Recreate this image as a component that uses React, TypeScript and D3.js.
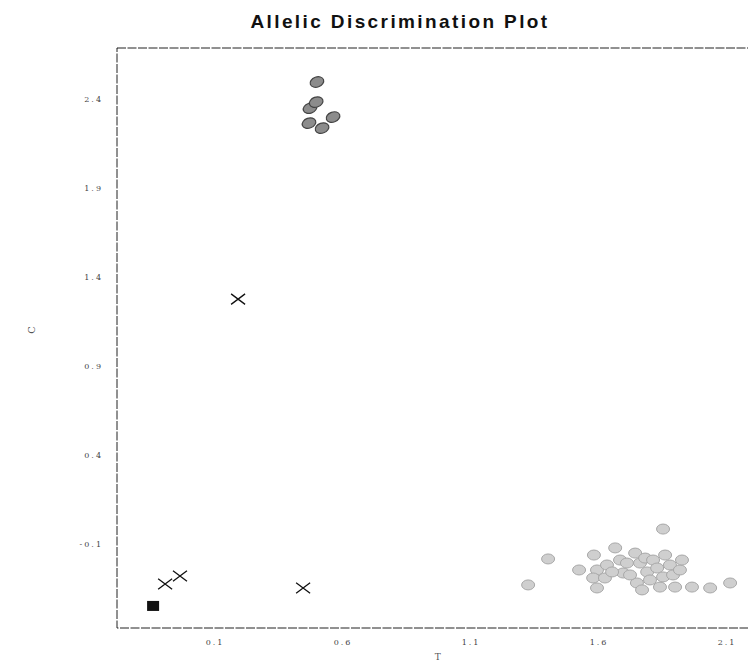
import { scaleLinear } from "d3";

// tick values
const xTicks = [0.1, 0.6, 1.1, 1.6, 2.1];
const yTicks = [-0.1, 0.4, 0.9, 1.4, 1.9, 2.4];

// allele C homozygotes (dark grey cluster, top left)
const alleleCX = [0.498, 0.471, 0.495, 0.561, 0.467, 0.518];
const alleleCY = [2.496, 2.349, 2.383, 2.299, 2.265, 2.237];

// allele T homozygotes (light grey cluster, bottom right)
const alleleTX = [
  1.323, 1.401, 1.522, 1.58, 1.592, 1.577, 1.592, 1.631, 1.663, 1.682, 1.694,
  1.709, 1.741, 1.748, 1.76, 1.78, 1.788, 1.811, 1.827, 1.838, 1.85, 1.877,
  1.889, 1.897, 1.916, 1.924, 1.963, 2.034, 2.112, 1.85, 1.623, 1.721, 1.799,
  1.858, 1.651, 1.768,
];
const alleleTY = [
  -0.33, -0.184, -0.246, -0.162, -0.246, -0.291, -0.347, -0.218, -0.122, -0.19,
  -0.263, -0.207, -0.151, -0.319, -0.207, -0.179, -0.257, -0.19, -0.235, -0.342,
  -0.285, -0.218, -0.274, -0.342, -0.246, -0.19, -0.342, -0.347, -0.319, -0.016,
  -0.291, -0.274, -0.302, -0.162, -0.257, -0.358,
];

// undetermined (crosses)
const undetX = [0.19, -0.095, -0.037, 0.444];
const undetY = [1.276, -0.325, -0.28, -0.347];

// no template control (black square)
const ntcX = [-0.142];
const ntcY = [-0.448];

const margin = { top: 48, left: 117 };
const width = 640;
const height = 580;

export default function App() {
  const x = scaleLinear().domain([-0.283, 2.217]).range([0, width]);
  const y = scaleLinear().domain([-0.572, 2.687]).range([height, 0]);

  const labelStyle = {
    fontFamily: "'DejaVu Serif', serif",
    fontSize: 8,
    fill: "#444",
    letterSpacing: 2,
  };

  return (
    <svg
      width={748}
      height={662}
      style={{ position: "absolute", left: 0, top: 0, background: "#fff" }}
    >
      <text
        x={400}
        y={28}
        textAnchor="middle"
        fontFamily="'Liberation Sans', Arial, sans-serif"
        fontWeight="bold"
        fontSize={19}
        letterSpacing={2.4}
        fill="#111"
      >
        Allelic Discrimination Plot
      </text>

      <g transform={`translate(${margin.left}, ${margin.top})`}>
        <rect
          x={0}
          y={0}
          width={width}
          height={height}
          fill="none"
          stroke="#222"
          strokeWidth={1}
          strokeDasharray="9 1.5"
        />

        {yTicks.map((t) => (
          <text key={`yt-${t}`} x={-14} y={y(t) + 3} textAnchor="end" style={labelStyle}>
            {t.toFixed(1)}
          </text>
        ))}
        {xTicks.map((t) => (
          <text key={`xt-${t}`} x={x(t)} y={height + 17} textAnchor="middle" style={labelStyle}>
            {t.toFixed(1)}
          </text>
        ))}

        <text
          transform={`translate(-82, ${height / 2 - 8}) rotate(-90)`}
          textAnchor="middle"
          fontFamily="'DejaVu Serif', serif"
          fontSize={10}
          fill="#555"
        >
          C
        </text>
        <text
          x={x(0.97)}
          y={height + 32}
          textAnchor="middle"
          fontFamily="'DejaVu Serif', serif"
          fontSize={9}
          fill="#555"
        >
          T
        </text>

        {alleleTX.map((v, i) => (
          <ellipse
            key={`t-${i}`}
            cx={x(v)}
            cy={y(alleleTY[i])}
            rx={6.5}
            ry={5}
            fill="#cfcfcf"
            stroke="#a8a8a8"
            strokeWidth={1}
          />
        ))}

        {alleleCX.map((v, i) => (
          <ellipse
            key={`c-${i}`}
            cx={x(v)}
            cy={y(alleleCY[i])}
            rx={7}
            ry={5}
            transform={`rotate(-20 ${x(v)} ${y(alleleCY[i])})`}
            fill="#8c8c8c"
            stroke="#444"
            strokeWidth={1.2}
          />
        ))}

        {undetX.map((v, i) => {
          const cx = x(v);
          const cy = y(undetY[i]);
          const s = 7;
          return (
            <path
              key={`u-${i}`}
              d={`M${cx - s},${cy - s * 0.75}L${cx + s},${cy + s * 0.75}M${cx - s},${cy + s * 0.75}L${cx + s},${cy - s * 0.75}`}
              stroke="#111"
              strokeWidth={1.3}
              fill="none"
            />
          );
        })}

        {ntcX.map((v, i) => (
          <rect
            key={`n-${i}`}
            x={x(v) - 6}
            y={y(ntcY[i]) - 5}
            width={12}
            height={10}
            fill="#111"
          />
        ))}
      </g>
    </svg>
  );
}
